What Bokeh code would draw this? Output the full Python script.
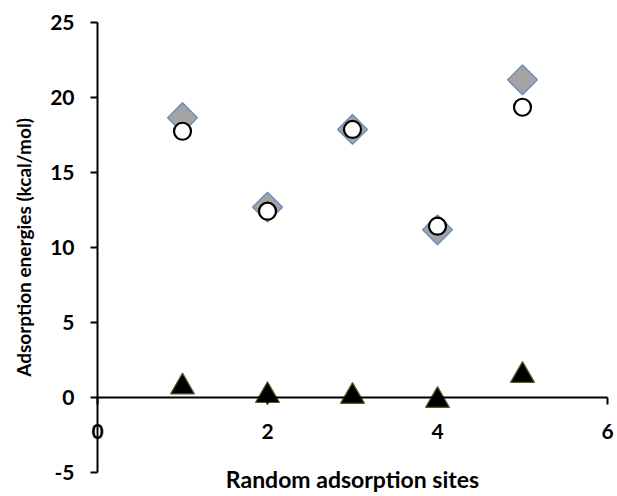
import math
from bokeh.plotting import figure
from bokeh.models import Range1d, FixedTicker, PrintfTickFormatter
from bokeh.embed import file_html
from bokeh.resources import INLINE

sites = [1, 2, 3, 4, 5]
series_diamond = [18.65, 12.69, 17.87, 11.18, 21.18]
series_circle = [17.75, 12.42, 17.87, 11.42, 19.35]
series_triangle = [0.7, 0.13, 0.07, -0.2, 1.47]
x_ticks = [0, 2, 4, 6]
y_ticks = [-5, 0, 5, 10, 15, 20, 25]

FONT = "Lato"
W, H = 617, 496
# plotting area: x 0..6 -> px 97..607, y -5..25 -> px 472..22
px_per_x = 510 / 6
px_per_y = 450 / 30
x_lo = 0 - 97 / px_per_x
x_hi = 6 + (W - 607) / px_per_x
y_hi = 25 + 22 / px_per_y
y_lo = -5 - (H - 472) / px_per_y

p = figure(width=W, height=H, output_backend="svg", toolbar_location=None,
           x_range=Range1d(x_lo, x_hi), y_range=Range1d(y_lo, y_hi),
           min_border_left=0, min_border_right=0, min_border_top=0, min_border_bottom=0)
p.outline_line_color = None
p.xgrid.visible = False
p.ygrid.visible = False
p.background_fill_color = "white"
p.border_fill_color = "white"

for ax in (p.xaxis[0], p.yaxis[0]):
    ax.axis_line_color = "black"
    ax.axis_line_width = 2
    ax.major_tick_line_color = "black"
    ax.major_tick_line_width = 2
    ax.major_tick_in = 0
    ax.major_tick_out = 7
    ax.minor_tick_line_color = None
    ax.major_label_text_font = FONT
    ax.major_label_text_font_style = "bold"
    ax.major_label_text_font_size = "21px"
    ax.major_label_text_color = "black"
    ax.axis_label_text_font = FONT
    ax.axis_label_text_font_style = "bold"
    ax.axis_label_text_color = "black"
    ax.formatter = PrintfTickFormatter(format="%d")
    ax.fixed_location = 0

p.xaxis[0].ticker = FixedTicker(ticks=x_ticks)
p.yaxis[0].ticker = FixedTicker(ticks=y_ticks)
p.xaxis[0].bounds = (0, 6)
p.yaxis[0].bounds = (-5, 25)
p.xaxis[0].major_label_standoff = 19
p.xaxis[0].axis_label = "Random adsorption sites"
p.xaxis[0].axis_label_text_font_size = "23px"
p.xaxis[0].axis_label_standoff = 23
p.yaxis[0].axis_label = "Adsorption energies (kcal/mol)"
p.yaxis[0].axis_label_text_font_size = "19px"
p.yaxis[0].major_label_standoff = 16
p.yaxis[0].axis_label_standoff = 12

p.scatter(sites, series_diamond, marker="square", size=21, angle=math.pi / 4,
          fill_color="#a4a4a4", line_color="#6f8fbf", line_width=1.5)
p.scatter(sites, series_circle, marker="circle", size=17,
          fill_color="white", line_color="black", line_width=2.2)
p.scatter(sites, series_triangle, marker="triangle", size=24,
          fill_color="black", line_color="#5c5a22", line_width=1.2)

open("out.html", "w").write(file_html(p, INLINE))
